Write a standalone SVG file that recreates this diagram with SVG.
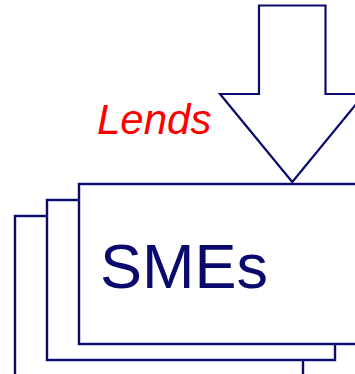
<svg xmlns="http://www.w3.org/2000/svg" width="355" height="374" viewBox="0 0 355 374">
<style>
.box{fill:#ffffff;stroke:#0a0a6e;stroke-width:2.4}
.arrow{fill:#ffffff;stroke:#0a0a6e;stroke-width:2.2}
</style>
<rect width="355" height="374" fill="#ffffff"/>
<g id="stack">
<g id="back"><rect class="box" x="15" y="216" width="288" height="175"/></g>
<g id="middle"><rect class="box" x="47" y="200" width="288" height="160"/></g>
<g id="front"><rect class="box" x="79" y="184" width="300" height="160"/>
<text x="100" y="288" font-family="Liberation Sans, Arial, sans-serif" font-size="63" fill="#0a0a6e">SMEs</text></g>
</g>
<g id="connectors">
<path class="arrow" d="M259,5.5 H325.5 V94 H364.5 L292.3,182 L220,94 H259 Z"/>
</g>
<g id="label">
<text x="97" y="134" font-family="Liberation Sans, Arial, sans-serif" font-size="42" font-style="italic" fill="#ff0000">Lends</text>
</g>
</svg>
